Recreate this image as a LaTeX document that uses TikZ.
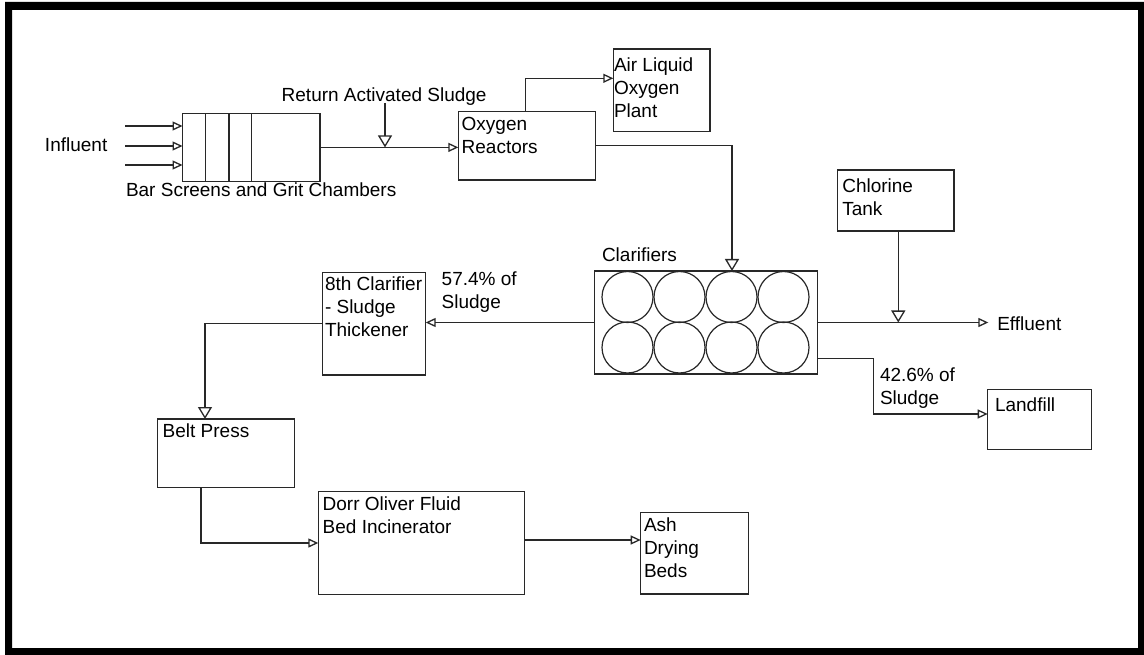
\documentclass[tikz,border=0pt]{standalone}
\usepackage{fontspec}
\setmainfont{Liberation Sans}
\usetikzlibrary{arrows.meta}
\definecolor{linec}{RGB}{40,40,40}
\begin{document}
\begin{tikzpicture}[x=1pt,y=-1pt,
  box/.style={draw=linec, line width=1.3pt, inner sep=0pt, outer sep=0pt, rectangle},
  txt/.style={font=\fontsize{19}{23}\selectfont, inner sep=0pt, outer sep=0pt, align=left, anchor=north west},
  conn/.style={draw=linec, line width=1.3pt},
  harr/.style={conn, -{Triangle[open,length=10pt,width=9pt]}},
  varr/.style={conn, -{Triangle[open,length=12pt,width=14pt]}},
  tank/.style={draw=linec, line width=1.2pt}
]
\useasboundingbox (0,0) rectangle (1144,655);
\fill[white] (0,0) rectangle (1144,655);
\fill[black, even odd rule] (5,2) rectangle (1144,655) (12,10) rectangle (1138,648);

% boxes
\node[box, minimum width=137.5pt, minimum height=68.2pt] (bar) at (251.25,147.4) {};
\draw[conn] (205.5,0 |- bar.north) -- (205.5,0 |- bar.south);
\draw[conn] (229,0 |- bar.north) -- (229,0 |- bar.south);
\draw[conn] (251.3,0 |- bar.north) -- (251.3,0 |- bar.south);
\node[box, minimum width=137.4pt, minimum height=68.3pt] (reac) at (527,145.85) {};
\node[box, minimum width=96.7pt, minimum height=82.7pt] (air) at (661.65,90.35) {};
\node[box, minimum width=223pt, minimum height=103pt] (clar) at (705.8,322.5) {};
\node[box, minimum width=116.3pt, minimum height=61pt] (chlor) at (895.85,200.5) {};
\node[box, minimum width=104pt, minimum height=60pt] (land) at (1039.7,419.3) {};
\node[box, minimum width=103pt, minimum height=102.7pt] (thick) at (374.2,323.65) {};
\node[box, minimum width=137pt, minimum height=68.7pt] (belt) at (225.8,453.35) {};
\node[box, minimum width=206pt, minimum height=102.6pt] (dorr) at (421.3,543) {};
\node[box, minimum width=107.6pt, minimum height=81.7pt] (ash) at (694.5,553.15) {};

% clarifier tanks
\foreach \cx in {627.5,679.5,731.5,783.5}{
  \draw[tank] (\cx,297) circle (25.5);
  \draw[tank] (\cx,347.5) circle (25.5);
}

% texts
\node[txt] (tinf) at (45,135.6) {\strut Influent};
\node[txt] (tbar) at (126,180.9) {\strut Bar Screens and Grit Chambers};
\node[txt] (tras) at (281.7,85.9) {\strut Return Activated Sludge};
\node[txt] (treac) at (461.7,114.6) {\strut Oxygen\\Reactors};
\node[txt] (tair) at (614,55.6) {\strut Air Liquid\\Oxygen\\Plant};
\node[txt] (tclar) at (602,245.6) {\strut Clarifiers};
\node[txt] (tchlor) at (842.3,176.2) {\strut Chlorine\\Tank};
\node[txt] (teff) at (997.3,314.6) {\strut Effluent};
\node[txt] (t426) at (880,364.9) {\strut 42.6\% of\\Sludge};
\node[txt] (tland) at (995,395.6) {\strut Landfill};
\node[txt] (tthick) at (325,274.6) {\strut 8th Clarifier\\- Sludge\\Thickener};
\node[txt] (t574) at (441.7,269.9) {\strut 57.4\% of\\Sludge};
\node[txt] (tbelt) at (162.7,421.2) {\strut Belt Press};
\node[txt] (tdorr) at (322.7,493.9) {\strut Dorr Oliver Fluid\\Bed Incinerator};
\node[txt] (tash) at (644,515.6) {\strut Ash\\Drying\\Beds};

% connectors
\coordinate (in1) at (125,126);
\coordinate (in2) at (125,146);
\coordinate (in3) at (125,165);
\draw[harr] (in1) -- (in1 -| bar.west);
\draw[harr] (in2) -- (in2 -| bar.west);
\draw[harr] (in3) -- (in3 -| bar.west);
\draw[harr] (bar.east) -- (bar.east -| reac.west);
\coordinate (ras) at (385,103);
\draw[varr] (ras) -- (ras |- bar.east);
\coordinate (a1) at (525.7,78.3);
\draw[harr] (reac.north -| a1) -- (a1) -- (a1 -| air.west);
\coordinate (c1) at (732,146);
\draw[varr] (reac.east) -- (reac.east -| c1) -- (c1 |- clar.north);
\draw[harr] (clar.west) -- (clar.west -| thick.east);
\coordinate (t1) at (205,0);
\draw[varr] (thick.west) -| (t1 |- belt.north);
\coordinate (b1) at (201,0);
\draw[harr] (b1 |- belt.south) |- (dorr.west);
\coordinate (d1) at (0,540);
\draw[harr] (d1 -| dorr.east) -- (d1 -| ash.west);
\coordinate (eff) at (988.3,0);
\draw[harr] (clar.east) -- (clar.east -| eff);
\coordinate (c2) at (898.3,0);
\draw[varr] (c2 |- chlor.south) -- (c2 |- clar.east);
\coordinate (l1) at (873.3,358.3);
\coordinate (l2) at (0,414);
\draw[harr] (l1 -| clar.east) -- (l1) -- (l1 |- l2) -- (l2 -| land.west);
\end{tikzpicture}
\end{document}
